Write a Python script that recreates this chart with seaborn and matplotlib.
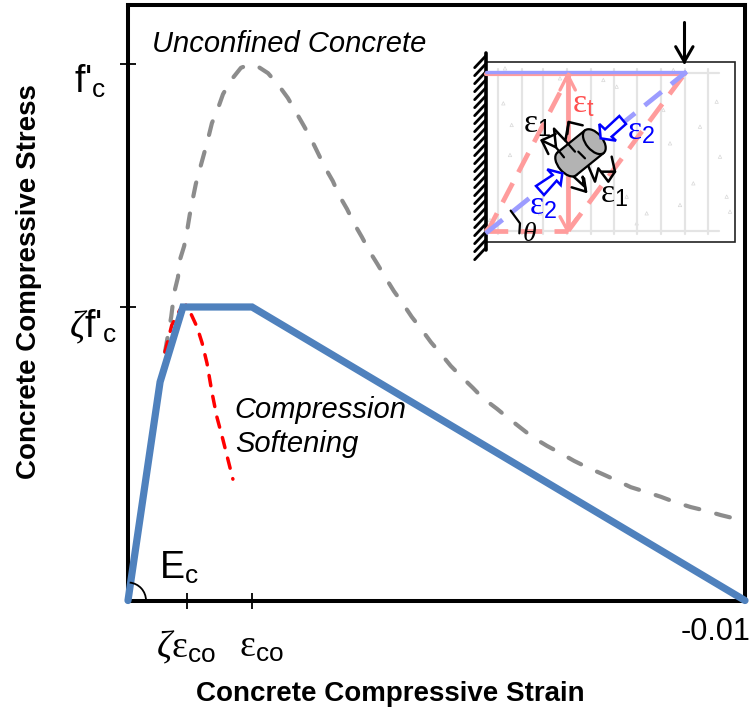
import numpy as np
import seaborn as sns
import matplotlib.pyplot as plt
from matplotlib.patches import Arc, Ellipse, Polygon, Rectangle
from matplotlib.transforms import ScaledTranslation

sns.set_style("ticks")
plt.rcParams['font.family'] = ['Liberation Sans', 'DejaVu Sans']
plt.rcParams['text.color'] = 'black'
plt.rcParams['axes.labelcolor'] = 'black'
plt.rcParams['xtick.labelcolor'] = 'black'
plt.rcParams['ytick.labelcolor'] = 'black'
plt.rcParams['mathtext.fontset'] = 'custom'
plt.rcParams['mathtext.rm'] = 'Liberation Serif'
plt.rcParams['mathtext.it'] = 'Liberation Serif:italic'
plt.rcParams['mathtext.sf'] = 'Liberation Sans'

# stress-strain curves (stress is a fraction of f'c)
unconfined_strain = [-0.00060, -0.00070, -0.00075, -0.00081, -0.00084, -0.00091, -0.00096, -0.00100, -0.00105, -0.00110,
                     -0.00117, -0.00123, -0.00130, -0.00136, -0.00146, -0.00154, -0.00167, -0.00183, -0.00194, -0.00207,
                     -0.00227, -0.00245, -0.00259, -0.00272, -0.00285, -0.00297, -0.00308, -0.00319, -0.00332, -0.00342,
                     -0.00355, -0.00366, -0.00379, -0.00391, -0.00404, -0.00417, -0.00431, -0.00446, -0.00460, -0.00475,
                     -0.00491, -0.00506, -0.00523, -0.00541, -0.00559, -0.00575, -0.00598, -0.00616, -0.00637, -0.00656,
                     -0.00679, -0.00700, -0.00723, -0.00746, -0.00768, -0.00793, -0.00815, -0.00840, -0.00864, -0.00887,
                     -0.00912, -0.00937, -0.00961, -0.01000]
unconfined_stress = [0.463, 0.528, 0.574, 0.602, 0.634, 0.660, 0.690, 0.718, 0.748, 0.776,
                     0.806, 0.831, 0.861, 0.889, 0.917, 0.943, 0.969, 0.992, 0.997, 0.997,
                     0.982, 0.958, 0.936, 0.910, 0.884, 0.859, 0.833, 0.807, 0.781, 0.755,
                     0.729, 0.703, 0.677, 0.651, 0.627, 0.602, 0.576, 0.552, 0.528, 0.506,
                     0.481, 0.461, 0.437, 0.416, 0.396, 0.377, 0.357, 0.340, 0.321, 0.304,
                     0.288, 0.275, 0.260, 0.247, 0.236, 0.223, 0.211, 0.202, 0.193, 0.183,
                     0.174, 0.167, 0.159, 0.148]
softening_strain = [-0.00060, -0.00071, -0.00084, -0.00094, -0.00100, -0.00112,
                    -0.00120, -0.00128, -0.00136, -0.00144, -0.00154, -0.00170]
softening_stress = [0.463, 0.513, 0.541, 0.550, 0.539, 0.509,
                    0.480, 0.442, 0.388, 0.342, 0.299, 0.226]
confined_strain = [0.0, -0.00052, -0.00089, -0.00201, -0.01000]
confined_stress = [0.0, 0.407, 0.5466, 0.5466, 0.0]

xtick_vals = [-0.00096, -0.00201, -0.01]
xtick_labels = [r"$\zeta\mathrm{\varepsilon}_{\mathsf{co}}$", r"$\mathrm{\varepsilon}_{\mathsf{co}}$", "-0.01"]
ytick_vals = [1.0, 0.5466]
ytick_labels = [r"f'$_{\mathsf{c}}$", r"$\zeta$f'$_{\mathsf{c}}$"]

# inset diagram, in its own little coordinate system (y down)
wall_x = [77, 77]
wall_y = [130, 720]
rebar_x = [115, 185, 250, 320, 392, 462, 532, 603, 675, 743]
speck_x = [135, 300, 430, 640, 770, 155, 150, 780, 700, 660, 560, 530, 630, 800, 810, 470, 610, 90, 130, 720, 240, 500]
speck_y = [175, 205, 210, 180, 275, 345, 435, 440, 520, 585, 610, 640, 400, 560, 605, 230, 300, 630, 280, 350, 610, 560]
pink_top_x = [77, 675]
pink_top_y = [192, 192]
blue_top_y = [186, 186]
pink_vert_x = [323, 323]
pink_vert_y = [200, 655]
pink_diag1_x = [77, 90, 330]
pink_diag1_y = [665, 650, 190]
pink_diag2_x = [325, 675]
pink_diag2_y = [662, 190]
pink_bottom_x = [77, 325]
pink_bottom_y = [662, 662]
blue_diag_x = [77, 680]
blue_diag_y = [670, 185]
spring_up = [(245, 391), (288, 412), (282, 356), (316, 392), (326, 336)]
spring_low = [(375, 445), (405, 515), (415, 475), (445, 515), (465, 485)]
spring_low2 = [(330, 490), (372, 528), (368, 500), (378, 545)]
stems = [[(288, 412), (312, 442)], [(316, 392), (345, 425)], [(375, 445), (355, 425)]]
barbs = [[(287, 372), (245, 391), (265, 432)], [(368, 346), (326, 336), (322, 372)],
         [(455, 440), (465, 485), (425, 485)], [(335, 532), (378, 545), (372, 505)]]
blue_arrow_1 = [(422, 385), (418, 342), (435, 358), (478, 318), (498, 342), (455, 380), (468, 392)]
blue_arrow_2 = [(307, 490), (262, 478), (278, 495), (228, 528), (252, 555), (290, 512), (302, 525)]

fig = plt.figure(figsize=(7.56, 7.12), dpi=100)
ax = fig.add_axes([128/756, 1 - 600.5/712, (745 - 128)/756, 595.5/712])

sns.lineplot(x=unconfined_strain, y=unconfined_stress, ax=ax, color='#8c8c8c', linewidth=3, sort=False,
             estimator=None, linestyle=(0, (3.4, 4.2)), dash_capstyle='round', clip_on=False)
sns.lineplot(x=softening_strain, y=softening_stress, ax=ax, color='#ff0000', linewidth=2.5, sort=False,
             estimator=None, linestyle=(0, (3, 3.1)), dash_capstyle='round', clip_on=False)
sns.lineplot(x=confined_strain, y=confined_stress, ax=ax, color='#4f81bd', linewidth=5.2, sort=False,
             estimator=None, clip_on=False, solid_joinstyle='miter', zorder=5)

ax.set_xlim(0, -0.01)
ax.set_ylim(0, 1.109)
for s in ax.spines.values():
    s.set_linewidth(2.9)
    s.set_color('black')

ax.set_xticks(xtick_vals)
ax.set_xticklabels(xtick_labels, fontsize=27)
ax.set_yticks(ytick_vals)
ax.set_yticklabels(ytick_labels, fontsize=27)
ax.get_xticklabels()[2].set_fontsize(22)
ax.tick_params(axis='both', direction='inout', length=11, width=1.3, color='black')
ax.xaxis.get_major_ticks()[2].tick1line.set_visible(False)

# tick labels sit off the ticks in the original, nudge them by hand
for lab, (dx, dy) in zip(ax.get_xticklabels(), [(-1, -16), (9, -16), (-29, -4)]):
    lab.set_transform(lab.get_transform() + ScaledTranslation(dx/100, dy/100, fig.dpi_scale_trans))
for lab, (dx, dy) in zip(ax.get_yticklabels(), [(-9, -14), (1, -16)]):
    lab.set_transform(lab.get_transform() + ScaledTranslation(dx/100, dy/100, fig.dpi_scale_trans))

ax.set_xlabel('Concrete Compressive Strain', fontsize=20, fontweight='bold')
ax.set_ylabel('Concrete Compressive Stress', fontsize=20, fontweight='bold')
ax.xaxis.set_label_coords(0.425, -0.135)
ax.yaxis.set_label_coords(-0.14, 0.535)

ax.text(-0.00039, 1.036, 'Unconfined Concrete', fontsize=21, style='italic', va='center')
ax.text(-0.00173, 0.323, 'Compression\nSoftening', fontsize=21, style='italic', va='center', linespacing=1.3)
ax.text(-0.00050, 0.06, r"E$_{\mathsf{c}}$", fontsize=27, va='center')
ax.add_patch(Arc((128/756, 1 - 600.5/712), 36/756, 36/712, theta1=0, theta2=85, color='black', lw=1.3,
                 transform=fig.transFigure, clip_on=False, zorder=6))

# the small beam diagram in the upper right corner
ax_in = fig.add_axes([460/756, 1 - 250/712, 280/756, 240/712])
ax_in.set_xlim(0, 840)
ax_in.set_ylim(720, 0)
ax_in.axis('off')
ax_in.patch.set_alpha(0)
ax_in.add_patch(Rectangle((77, 155), 749, 540, facecolor='white', edgecolor='#222222', lw=1.2))
for x in rebar_x:
    ax_in.plot([x, x], [178, 672], color='#e4e4e4', lw=1.6)
for y in [188, 662]:
    ax_in.plot([77, 778], [y, y], color='#e4e4e4', lw=1.6)
ax_in.scatter(speck_x, speck_y, s=6, marker='^', facecolor='none', edgecolor='#d8d8d8', linewidth=0.5)

ax_in.plot(wall_x, wall_y, color='black', lw=2.6, clip_on=False)
for y in np.arange(138, 720, 24):
    ax_in.plot([77, 44], [y, y + 35], color='black', lw=2.0, clip_on=False)

pink = '#ff9c9c'
lav = '#9c9cff'
ax_in.plot(pink_top_x, pink_top_y, color=pink, lw=3)
ax_in.plot(pink_top_x, blue_top_y, color=lav, lw=2.4)
ax_in.plot(pink_vert_x, pink_vert_y, color=pink, lw=3.4)
dash = (0, (4.6, 2.6))
ax_in.plot(pink_diag1_x, pink_diag1_y, color=pink, lw=3.4, linestyle=dash)
ax_in.plot(pink_diag2_x, pink_diag2_y, color=pink, lw=3.4, linestyle=dash)
ax_in.plot(pink_bottom_x, pink_bottom_y, color=pink, lw=3.4, linestyle=dash)
ax_in.plot(blue_diag_x, blue_diag_y, color=lav, lw=3.4, linestyle=dash)
ax_in.plot([300, 323, 346], [240, 195, 240], color=pink, lw=2.4)
ax_in.plot([300, 323, 350], [620, 662, 625], color=pink, lw=2.4)

for pts in [spring_up, spring_low, spring_low2] + barbs:
    xs, ys = zip(*pts)
    ax_in.plot(xs, ys, color='black', lw=1.8, zorder=3)

# gray cylinder: body plus two end caps
ax_in.add_patch(Ellipse((320, 462), 88, 50, angle=50, facecolor='#b3b3b3', edgecolor='black', lw=1.6, zorder=4))
ax_in.add_patch(Polygon([(292, 428), (375, 361), (431, 429), (348, 496)], facecolor='#b3b3b3', edgecolor='none', zorder=4))
ax_in.plot([292, 375], [428, 361], color='black', lw=1.6, zorder=5)
ax_in.plot([348, 431], [496, 429], color='black', lw=1.6, zorder=5)
ax_in.add_patch(Ellipse((403, 395), 88, 50, angle=50, facecolor='#b3b3b3', edgecolor='black', lw=1.6, zorder=5))
for pts in stems:
    xs, ys = zip(*pts)
    ax_in.plot(xs, ys, color='black', lw=1.6, zorder=6)

for arrow in [blue_arrow_1, blue_arrow_2]:
    ax_in.add_patch(Polygon(arrow, facecolor='white', edgecolor='#0000ff', lw=1.8, zorder=6))

ax_in.plot([673, 673], [35, 155], color='black', lw=2.2, clip_on=False)
ax_in.plot([647, 673, 699], [110, 155, 110], color='black', lw=2.2, clip_on=False)
ax_in.plot([152, 180, 178], [602, 640, 670], color='black', lw=1.6, zorder=6)

in_font = dict(fontsize=24, va='center', ha='center', zorder=7)
ax_in.text(232, 342, r"$\mathrm{\varepsilon}_{\mathsf{1}}$", color='black', **in_font)
ax_in.text(462, 552, r"$\mathrm{\varepsilon}_{\mathsf{1}}$", color='black', **in_font)
ax_in.text(542, 362, r"$\mathrm{\varepsilon}_{\mathsf{2}}$", color='#0000ff', **in_font)
ax_in.text(250, 586, r"$\mathrm{\varepsilon}_{\mathsf{2}}$", color='#0000ff', **in_font)
ax_in.text(370, 282, r"$\mathrm{\varepsilon}_{\mathsf{t}}$", color='#ff5050', **in_font)
ax_in.text(208, 672, r"$\theta$", color='black', fontsize=20, va='center', ha='center', zorder=7)

plt.savefig('out.png', dpi=100)
